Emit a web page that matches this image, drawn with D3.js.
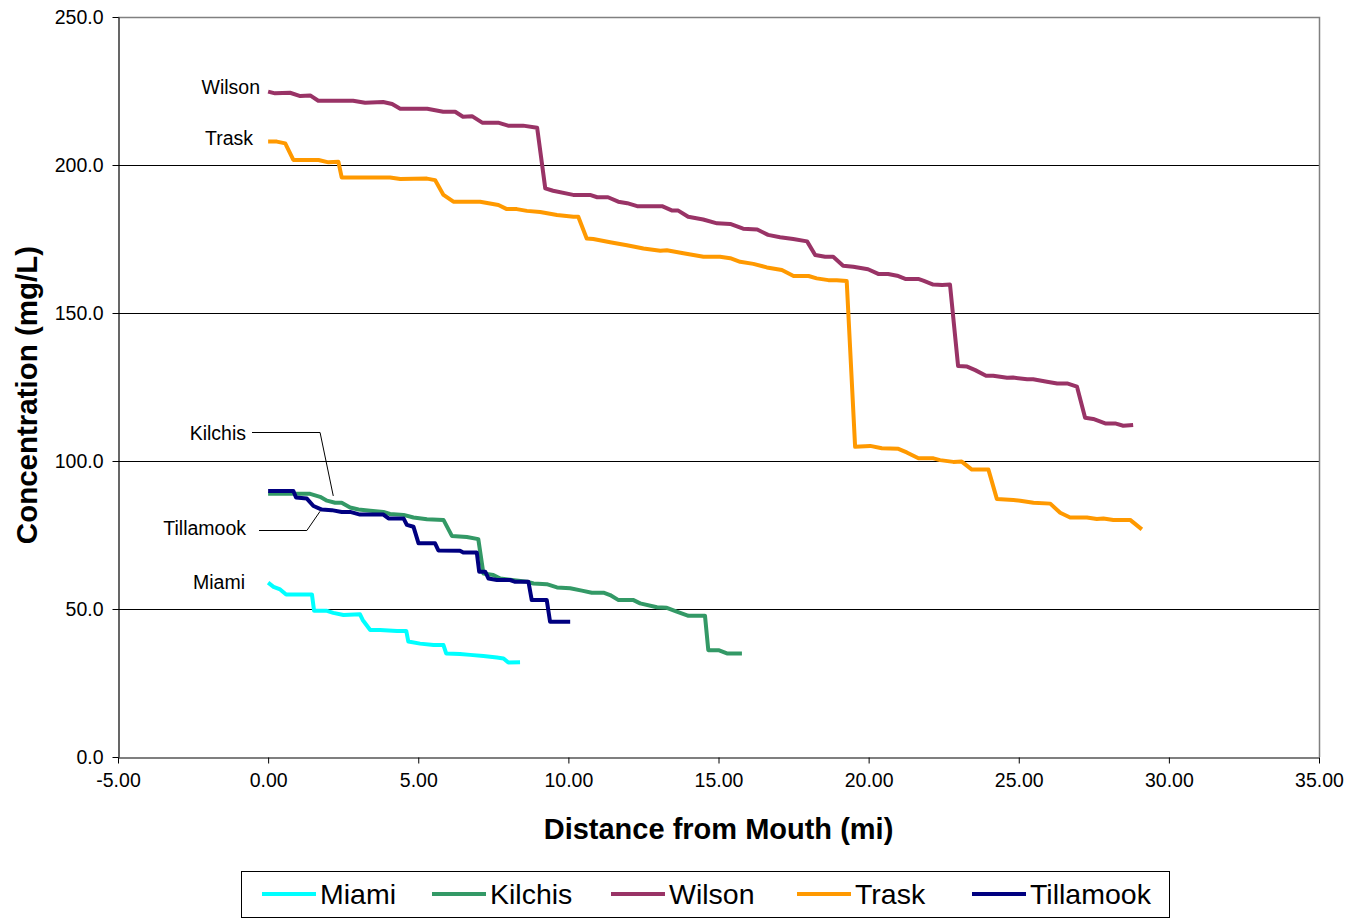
<!DOCTYPE html>
<html>
<head>
<meta charset="utf-8">
<script src="https://cdn.jsdelivr.net/npm/d3@7"></script>
<style>
  html, body { margin: 0; padding: 0; background: #fff; }
  svg { display: block; font-family: "Liberation Sans", Arial, sans-serif; }
</style>
</head>
<body>
<svg id="chart" width="1351" height="919"></svg>
<script>
// ---------- data ----------
const seriesNames = ["Miami", "Kilchis", "Wilson", "Trask", "Tillamook"];
const seriesColors = ["#00FFFF", "#339966", "#993366", "#FF9900", "#000080"];

const miamiX = [0, 0.18, 0.40, 0.60, 1.46, 1.53, 1.96, 2.17, 2.51, 3.06, 3.15, 3.40, 3.73, 4.29, 4.60, 4.67, 5.06, 5.51, 5.84, 5.93, 6.39, 6.73, 7.17, 7.62, 7.84, 8.00, 8.39];
const miamiY = [58.9, 57.5, 56.6, 54.9, 54.9, 49.4, 49.4, 48.7, 48.0, 48.2, 46.3, 42.9, 42.9, 42.6, 42.6, 39.0, 38.3, 37.8, 37.8, 35.0, 34.8, 34.5, 34.1, 33.6, 33.3, 31.9, 32.0];

const kilchisX = [0, 0.84, 1.40, 1.73, 1.96, 2.23, 2.45, 2.73, 3.01, 3.40, 3.84, 4.06, 4.51, 4.84, 5.29, 5.84, 6.12, 6.62, 7.00, 7.17, 7.50, 7.73, 8.62, 8.84, 9.28, 9.62, 10.06, 10.45, 10.78, 11.17, 11.39, 11.67, 12.17, 12.39, 12.95, 13.28, 13.61, 14.00, 14.55, 14.66, 15.00, 15.28, 15.78];
const kilchisY = [88.9, 88.9, 88.9, 87.9, 86.6, 85.9, 85.9, 84.3, 83.6, 83.2, 82.8, 82.1, 81.8, 80.9, 80.3, 80.1, 74.7, 74.3, 73.6, 62.0, 61.5, 60.3, 59.2, 58.6, 58.4, 57.3, 57.0, 56.2, 55.5, 55.5, 54.7, 53.0, 53.0, 51.9, 50.6, 50.4, 49.1, 47.7, 47.7, 36.1, 36.1, 35.0, 35.0];

const wilsonX = [0, 0.23, 0.73, 1.07, 1.40, 1.67, 2.83, 3.23, 3.83, 4.13, 4.40, 5.30, 5.83, 6.23, 6.49, 6.79, 7.13, 7.66, 7.99, 8.49, 8.96, 9.23, 9.49, 10.16, 10.72, 10.96, 11.32, 11.66, 11.96, 12.29, 13.12, 13.46, 13.66, 13.99, 14.49, 14.95, 15.39, 15.82, 16.29, 16.65, 17.05, 17.49, 17.95, 18.22, 18.55, 18.82, 19.15, 19.49, 19.98, 20.32, 20.65, 20.95, 21.22, 21.65, 21.82, 22.15, 22.45, 22.71, 22.98, 23.28, 23.55, 23.91, 24.15, 24.61, 24.81, 25.28, 25.48, 25.94, 26.28, 26.61, 26.94, 27.21, 27.48, 27.88, 28.21, 28.48, 28.81];
const wilsonY = [224.8, 224.2, 224.4, 223.3, 223.5, 221.7, 221.7, 221.0, 221.3, 220.6, 219.0, 219.0, 218.0, 218.0, 216.3, 216.5, 214.3, 214.3, 213.3, 213.3, 212.6, 192.1, 191.3, 189.9, 189.9, 189.1, 189.1, 187.6, 187.1, 186.1, 186.1, 184.6, 184.6, 182.5, 181.6, 180.3, 180.1, 178.5, 178.2, 176.4, 175.6, 175.0, 174.2, 169.6, 169.0, 169.0, 166.0, 165.6, 164.8, 163.2, 163.2, 162.6, 161.5, 161.5, 160.9, 159.6, 159.5, 159.6, 132.1, 131.9, 130.7, 128.8, 128.8, 128.1, 128.2, 127.6, 127.6, 126.8, 126.2, 126.2, 125.1, 114.6, 114.2, 112.7, 112.7, 111.9, 112.2];

const traskX = [0, 0.29, 0.57, 0.84, 1.68, 2.01, 2.34, 2.45, 4.06, 4.40, 5.29, 5.56, 5.84, 6.17, 7.06, 7.67, 7.95, 8.28, 8.62, 9.06, 9.62, 10.17, 10.33, 10.61, 10.83, 11.39, 11.95, 12.50, 13.06, 13.28, 13.83, 14.50, 15.05, 15.39, 15.72, 16.16, 16.61, 17.11, 17.50, 18.00, 18.27, 18.66, 18.94, 19.27, 19.55, 20.05, 20.44, 20.99, 21.27, 21.66, 22.16, 22.38, 22.82, 23.10, 23.44, 23.99, 24.27, 24.82, 25.05, 25.49, 26.05, 26.38, 26.71, 27.27, 27.60, 27.82, 28.15, 28.71, 29.10];
const traskY = [207.9, 207.9, 207.3, 201.7, 201.7, 200.9, 201.1, 195.8, 195.8, 195.3, 195.4, 194.9, 189.9, 187.6, 187.6, 186.5, 185.1, 185.1, 184.5, 184.1, 183.1, 182.5, 182.5, 175.2, 175.0, 173.9, 172.9, 171.8, 171.0, 171.2, 170.2, 169.0, 169.0, 168.5, 167.3, 166.6, 165.4, 164.5, 162.5, 162.5, 161.7, 161.1, 161.1, 160.8, 104.8, 105.1, 104.3, 104.1, 102.9, 100.9, 100.9, 100.3, 99.7, 99.8, 97.1, 97.1, 87.2, 86.8, 86.6, 85.9, 85.6, 82.5, 80.9, 80.9, 80.4, 80.6, 80.1, 80.1, 76.9];

const tillamookX = [0, 0.84, 0.93, 1.29, 1.51, 1.79, 2.12, 2.45, 2.73, 3.06, 3.84, 4.01, 4.51, 4.62, 4.84, 5.01, 5.56, 5.67, 6.39, 6.50, 6.95, 7.03, 7.23, 7.34, 7.62, 8.06, 8.23, 8.67, 8.78, 9.28, 9.39, 10.06];
const tillamookY = [89.9, 89.9, 87.7, 87.3, 84.8, 83.6, 83.4, 82.8, 82.8, 81.9, 81.9, 80.6, 80.6, 78.4, 77.8, 72.2, 72.2, 69.8, 69.7, 69.1, 69.1, 62.6, 62.6, 60.3, 59.8, 59.8, 59.2, 59.2, 53.0, 53.0, 45.7, 45.7];

const xTicks = [-5, 0, 5, 10, 15, 20, 25, 30, 35];
const yTicks = [0, 50, 100, 150, 200, 250];
const xTitle = "Distance from Mouth (mi)";
const yTitle = "Concentration (mg/L)";

// ---------- layout ----------
const svg = d3.select("#chart");
const L = 118, R = 1319, T = 17, B = 757;
const x = d3.scaleLinear().domain([-5, 35]).range([L, R]);
const y = d3.scaleLinear().domain([0, 250]).range([B, T]);

// gridlines
svg.append("g").selectAll("line")
  .data(yTicks.filter(v => v > 0 && v < 250))
  .join("line")
  .attr("x1", L).attr("x2", R)
  .attr("y1", d => Math.round(y(d)) + 0.5).attr("y2", d => Math.round(y(d)) + 0.5)
  .attr("stroke", "#000").attr("stroke-width", 1);

// plot border top/right
svg.append("path")
  .attr("d", `M${L},${T + 0.5}H${R + 0.5}V${B}`)
  .attr("fill", "none").attr("stroke", "#808080").attr("stroke-width", 1.5);

// axes (hyphen-minus as in the original)
const fmtX = v => d3.format(".2f")(v).replace("\u2212", "-");
const fmtY = v => d3.format(".1f")(v).replace("\u2212", "-");
const xAxis = d3.axisBottom(x).tickValues(xTicks).tickFormat(fmtX).tickSizeInner(6).tickSizeOuter(0).tickPadding(10);
const gx = svg.append("g").attr("transform", `translate(0,${B + 0.5})`).call(xAxis);
const yAxis = d3.axisLeft(y).tickValues(yTicks).tickFormat(fmtY).tickSizeInner(6).tickSizeOuter(0).tickPadding(9);
const gy = svg.append("g").attr("transform", `translate(${L + 0.5},0)`).call(yAxis);
[gx, gy].forEach(g => {
  g.select(".domain").attr("stroke", "#000").attr("stroke-width", 1.2);
  g.selectAll(".tick line").attr("stroke", "#000");
  g.selectAll(".tick text").attr("fill", "#000").style("font-size", "19.5px")
   .style("font-family", '"Liberation Sans", Arial, sans-serif');
});

// series
const seriesX = [miamiX, kilchisX, wilsonX, traskX, tillamookX];
const seriesY = [miamiY, kilchisY, wilsonY, traskY, tillamookY];
const line = d3.line().x(d => x(d[0])).y(d => y(d[1]));
const drawOrder = [2, 3, 1, 4, 0];
drawOrder.forEach(i => {
  const pts = seriesX[i].map((v, k) => [v, seriesY[i][k]]);
  svg.append("path")
    .datum(pts)
    .attr("d", line)
    .attr("fill", "none")
    .attr("stroke", seriesColors[i])
    .attr("stroke-width", 4)
    .attr("stroke-linejoin", "round");
});

// annotations
const ann = svg.append("g").style("font-size", "19.5px").attr("fill", "#000");
ann.append("text").attr("x", 260).attr("y", 94).attr("text-anchor", "end").text("Wilson");
ann.append("text").attr("x", 253).attr("y", 145).attr("text-anchor", "end").text("Trask");
ann.append("text").attr("x", 246).attr("y", 440).attr("text-anchor", "end").text("Kilchis");
ann.append("text").attr("x", 246).attr("y", 535).attr("text-anchor", "end").text("Tillamook");
ann.append("text").attr("x", 245).attr("y", 589).attr("text-anchor", "end").text("Miami");
// leader lines (anchored to data points)
svg.append("path")
  .attr("d", `M252,432.5H${x(1.73)}L${x(2.17)},${y(88.2)}`)
  .attr("fill", "none").attr("stroke", "#000").attr("stroke-width", 1);
svg.append("path")
  .attr("d", `M259,530.5H${x(1.29)}L${x(1.73)},${y(83.0)}`)
  .attr("fill", "none").attr("stroke", "#000").attr("stroke-width", 1);

// axis titles
svg.append("text")
  .attr("x", (L + R) / 2).attr("y", 839)
  .attr("text-anchor", "middle")
  .style("font-size", "29px").style("font-weight", "bold")
  .text(xTitle);
svg.append("text")
  .attr("transform", `translate(37,395) rotate(-90)`)
  .attr("text-anchor", "middle")
  .style("font-size", "29.5px").style("font-weight", "bold")
  .text(yTitle);

// legend
const lg = svg.append("g");
lg.append("rect").attr("x", 241.5).attr("y", 871.5).attr("width", 928).attr("height", 46)
  .attr("fill", "#fff").attr("stroke", "#000").attr("stroke-width", 1);
const legX = [262, 432, 611, 797, 972];
seriesNames.forEach((n, i) => {
  lg.append("line").attr("x1", legX[i]).attr("x2", legX[i] + 54)
    .attr("y1", 894).attr("y2", 894)
    .attr("stroke", seriesColors[i]).attr("stroke-width", 4);
  lg.append("text").attr("x", legX[i] + 58).attr("y", 904)
    .style("font-size", "28.5px").text(n);
});
</script>
</body>
</html>
